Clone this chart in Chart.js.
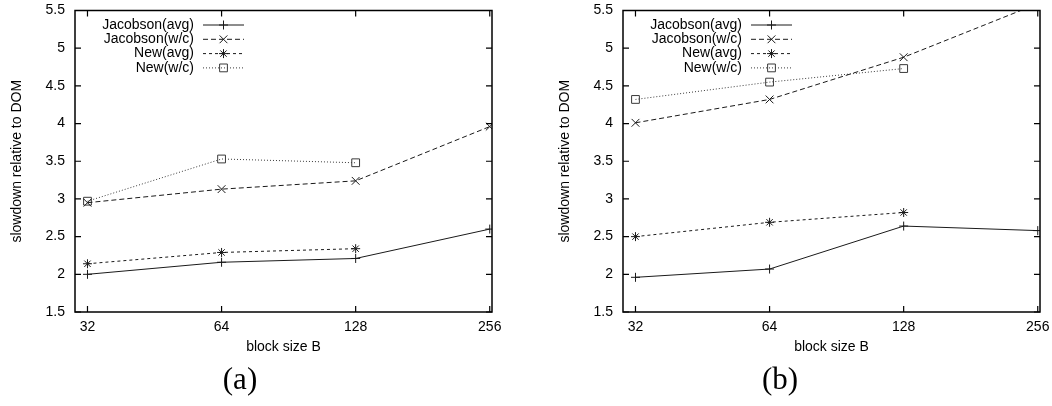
<!DOCTYPE html>
<html><head><meta charset="utf-8">
<script src="https://cdn.jsdelivr.net/npm/chart.js@4.4.0/dist/chart.umd.min.js"></script>
<style>
body{margin:0;background:#fff;width:1052px;height:406px;overflow:hidden;position:relative;font-family:"Liberation Sans",Arial,sans-serif}
.panel{position:absolute;top:0;width:504px;height:362px}
.cap{position:absolute;top:360px;font-family:"Liberation Serif","DejaVu Serif",serif;font-size:31px;line-height:37px;transform:translateX(-50%);color:#000}
</style></head><body>
<div class="panel" style="left:0"><canvas id="ca" width="504" height="362"></canvas></div>
<div class="panel" style="left:548px"><canvas id="cb" width="504" height="362"></canvas></div>
<div class="cap" style="left:240px">(a)</div>
<div class="cap" style="left:780px">(b)</div>
<script>
// ---- data ----
const blockSizes = [32, 64, 128, 256];
const yTicks = [1.5, 2, 2.5, 3, 3.5, 4, 4.5, 5, 5.5];
const seriesNames = ['Jacobson(avg)', 'Jacobson(w/c)', 'New(avg)', 'New(w/c)'];
const xLabel = 'block size B';
const yLabel = 'slowdown relative to DOM';
// panel (a)
const aJacAvg = [2.00, 2.16, 2.21, 2.60];
const aJacWc  = [2.95, 3.13, 3.24, 3.96];
const aNewAvg = [2.14, 2.29, 2.34, null];
const aNewWc  = [2.97, 3.53, 3.48, null];
// panel (b)
const bJacAvg = [1.96, 2.07, 2.64, 2.58];
const bJacWc  = [4.01, 4.32, 4.88, 5.59];
const bNewAvg = [2.50, 2.69, 2.82, null];
const bNewWc  = [4.32, 4.55, 4.73, null];

// ---- styles ----
const styles = [
  {color: '#1a1a1a', dash: [], point: 'cross', r: 4.5},
  {color: '#1a1a1a', dash: [5, 3], point: 'crossRot', r: 5.5},
  {color: '#1a1a1a', dash: [3, 3], point: 'star', r: 4.5},
  {color: '#3a3a3a', dash: [1, 2], point: 'rect', r: 5.5}
];

function toPts(vals) {
  const out = [];
  blockSizes.forEach((b, i) => { if (vals[i] !== null) out.push({x: b, y: vals[i]}); });
  return out;
}
function makeDatasets(series) {
  return series.map((vals, i) => ({
    label: seriesNames[i],
    data: toPts(vals),
    showLine: true,
    borderColor: styles[i].color,
    borderWidth: 1,
    borderDash: styles[i].dash,
    pointStyle: styles[i].point,
    pointRadius: styles[i].r,
    pointBorderWidth: 1,
    pointBorderColor: styles[i].color,
    pointBackgroundColor: 'rgba(0,0,0,0)',
    fill: false,
    tension: 0
  }));
}

const frameAndKey = {
  id: 'frameAndKey',
  afterDraw(chart) {
    const {ctx, chartArea: a, scales} = chart;
    ctx.save();
    ctx.strokeStyle = '#000';
    ctx.lineWidth = 1.5;
    ctx.setLineDash([]);
    ctx.strokeRect(a.left, a.top, a.right - a.left, a.bottom - a.top);
    const tl = 6;
    ctx.lineWidth = 1.2;
    ctx.beginPath();
    scales.x.ticks.forEach(t => {
      const px = scales.x.getPixelForValue(t.value);
      ctx.moveTo(px, a.bottom); ctx.lineTo(px, a.bottom - tl);
      ctx.moveTo(px, a.top); ctx.lineTo(px, a.top + tl);
    });
    scales.y.ticks.forEach(t => {
      const py = scales.y.getPixelForValue(t.value);
      ctx.moveTo(a.left, py); ctx.lineTo(a.left + tl, py);
      ctx.moveTo(a.right, py); ctx.lineTo(a.right - tl, py);
    });
    ctx.stroke();
    ctx.font = '14px "Liberation Sans", Arial, sans-serif';
    ctx.textAlign = 'right';
    ctx.textBaseline = 'middle';
    chart.data.datasets.forEach((ds, i) => {
      const y = a.top + 14.5 + i * 14.3;
      ctx.fillStyle = '#000';
      ctx.fillText(ds.label, a.left + 119, y);
      ctx.strokeStyle = ds.borderColor;
      ctx.lineWidth = 1;
      ctx.setLineDash(ds.borderDash);
      ctx.beginPath();
      ctx.moveTo(a.left + 128, y); ctx.lineTo(a.left + 169, y);
      ctx.stroke();
      ctx.setLineDash([]);
      const opts = {pointStyle: ds.pointStyle, radius: ds.pointRadius, borderWidth: 1, rotation: 0};
      ctx.fillStyle = 'rgba(0,0,0,0)';
      ctx.strokeStyle = ds.pointBorderColor;
      if (Chart.helpers && Chart.helpers.drawPoint) {
        Chart.helpers.drawPoint(ctx, opts, a.left + 148.5, y);
      }
    });
    ctx.restore();
  }
};

function makeChart(id, series) {
  return new Chart(document.getElementById(id), {
    type: 'scatter',
    data: {datasets: makeDatasets(series)},
    plugins: [frameAndKey],
    options: {
      responsive: false,
      animation: false,
      events: [],
      layout: {padding: {top: 10.5, right: 12, bottom: 0, left: 0}},
      plugins: {legend: {display: false}, tooltip: {enabled: false}},
      scales: {
        x: {
          type: 'logarithmic', min: 30, max: 259,
          afterBuildTicks(ax) { ax.ticks = blockSizes.map(v => ({value: v})); },
          afterFit(s) { s.height = 50; s.paddingLeft = 0; s.paddingRight = 0; },
          grid: {display: false, drawTicks: false},
          border: {display: false},
          ticks: {color: '#000', font: {size: 14, family: '"Liberation Sans", Arial, sans-serif'}, padding: 7,
                  maxRotation: 0, autoSkip: false, callback: v => String(v)},
          title: {display: true, text: xLabel, color: '#000',
                  font: {size: 14, family: '"Liberation Sans", Arial, sans-serif'}, padding: {top: 0, bottom: 6.5}}
        },
        y: {
          min: 1.5, max: 5.5,
          afterBuildTicks(ax) { ax.ticks = yTicks.map(v => ({value: v})); },
          afterFit(s) { s.width = 75; s.paddingTop = 0; s.paddingBottom = 0; },
          grid: {display: false, drawTicks: false},
          border: {display: false},
          ticks: {color: '#000', font: {size: 14, family: '"Liberation Sans", Arial, sans-serif'}, padding: 10,
                  autoSkip: false, callback: v => String(v)},
          title: {display: true, text: yLabel, color: '#000',
                  font: {size: 14, family: '"Liberation Sans", Arial, sans-serif'}, padding: {top: 8.6, bottom: 0}}
        }
      }
    }
  });
}

makeChart('ca', [aJacAvg, aJacWc, aNewAvg, aNewWc]);
makeChart('cb', [bJacAvg, bJacWc, bNewAvg, bNewWc]);
</script>
</body></html>
